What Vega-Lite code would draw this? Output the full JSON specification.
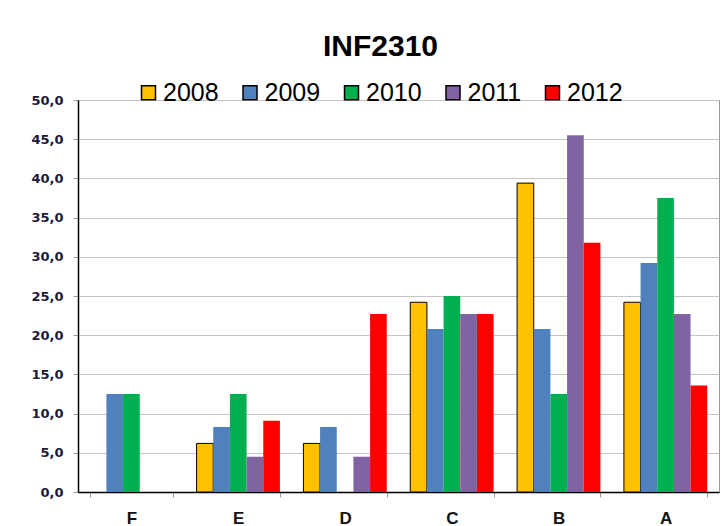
{
  "$schema": "https://vega.github.io/schema/vega-lite/v6.json",
  "autosize": "none",
  "width": 641,
  "height": 392,
  "padding": {"left": 78, "top": 100, "right": 3, "bottom": 34},
  "background": "white",
  "title": {
    "text": "INF2310",
    "font": "Liberation Sans",
    "fontSize": 30,
    "fontWeight": "bold",
    "color": "#000",
    "anchor": "middle",
    "dx": -18,
    "offset": 18
  },
  "config": {
    "view": {"stroke": "#999", "strokeWidth": 1},
    "font": "Liberation Sans"
  },
  "data": {
    "values": [
      {"grade": "F", "year": "2009", "pct": 12.5},
      {"grade": "F", "year": "2010", "pct": 12.5},
      {"grade": "E", "year": "2008", "pct": 6.2},
      {"grade": "E", "year": "2009", "pct": 8.3},
      {"grade": "E", "year": "2010", "pct": 12.5},
      {"grade": "E", "year": "2011", "pct": 4.5},
      {"grade": "E", "year": "2012", "pct": 9.1},
      {"grade": "D", "year": "2008", "pct": 6.2},
      {"grade": "D", "year": "2009", "pct": 8.3},
      {"grade": "D", "year": "2011", "pct": 4.5},
      {"grade": "D", "year": "2012", "pct": 22.7},
      {"grade": "C", "year": "2008", "pct": 24.2},
      {"grade": "C", "year": "2009", "pct": 20.8},
      {"grade": "C", "year": "2010", "pct": 25.0},
      {"grade": "C", "year": "2011", "pct": 22.7},
      {"grade": "C", "year": "2012", "pct": 22.7},
      {"grade": "B", "year": "2008", "pct": 39.4},
      {"grade": "B", "year": "2009", "pct": 20.8},
      {"grade": "B", "year": "2010", "pct": 12.5},
      {"grade": "B", "year": "2011", "pct": 45.5},
      {"grade": "B", "year": "2012", "pct": 31.8},
      {"grade": "A", "year": "2008", "pct": 24.2},
      {"grade": "A", "year": "2009", "pct": 29.2},
      {"grade": "A", "year": "2010", "pct": 37.5},
      {"grade": "A", "year": "2011", "pct": 22.7},
      {"grade": "A", "year": "2012", "pct": 13.6}
    ]
  },
  "mark": {"type": "bar", "strokeWidth": 1},
  "encoding": {
    "x": {
      "field": "grade",
      "type": "nominal",
      "sort": ["F", "E", "D", "C", "B", "A"],
      "scale": {"paddingInner": 0.22, "paddingOuter": 0.11},
      "axis": {
        "title": null,
        "labelAngle": 0,
        "labelFont": "Liberation Sans",
        "labelFontSize": 17,
        "labelFontWeight": "bold",
        "labelColor": "#111",
        "labelPadding": 13,
        "domainColor": "#000",
        "domainWidth": 1.5,
        "tickBand": "extent",
        "tickColor": "#999",
        "tickSize": 5,
        "grid": false
      }
    },
    "xOffset": {
      "field": "year",
      "type": "nominal",
      "scale": {"domain": ["2008", "2009", "2010", "2011", "2012"], "paddingInner": 0, "paddingOuter": 0}
    },
    "y": {
      "field": "pct",
      "type": "quantitative",
      "scale": {"domain": [0, 50], "nice": false},
      "axis": {
        "title": null,
        "values": [0, 5, 10, 15, 20, 25, 30, 35, 40, 45, 50],
        "labelExpr": "replace(format(datum.value, '.1f'), '.', ',')",
        "labelFont": "DejaVu Sans",
        "labelFontSize": 13,
        "labelFontWeight": "bold",
        "labelColor": "#1a1a3a",
        "labelPadding": 10,
        "domainColor": "#000",
        "domainWidth": 1.5,
        "tickColor": "#999",
        "tickSize": 5,
        "gridColor": "#c4c4c4",
        "gridWidth": 1.2
      }
    },
    "color": {
      "field": "year",
      "type": "nominal",
      "scale": {
        "domain": ["2008", "2009", "2010", "2011", "2012"],
        "range": ["#FFC000", "#4F81BD", "#00B050", "#8064A2", "#FF0000"]
      },
      "legend": {
        "title": null,
        "orient": "none",
        "direction": "horizontal",
        "legendX": 58,
        "legendY": -20,
        "symbolType": "square",
        "symbolSize": 196,
        "symbolStrokeWidth": 1.5,
        "symbolStrokeColor": "#000",
        "labelFont": "Liberation Sans",
        "labelFontSize": 25,
        "labelColor": "#000",
        "labelOffset": 2,
        "columnPadding": 18.5,
        "symbolOffset": 0
      }
    },
    "stroke": {
      "condition": {"test": "datum.year == '2008'", "value": "#000"},
      "value": null
    }
  }
}
